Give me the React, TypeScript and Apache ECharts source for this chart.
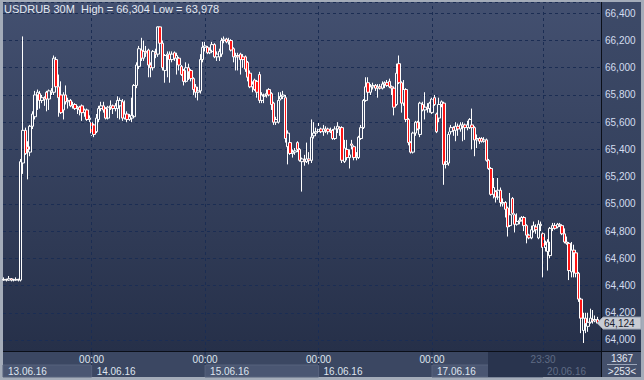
import React, { useEffect, useRef } from "react";
import * as echarts from "echarts";

// Each candle: [open, close, low, high]
const day13 = [
  [64.44, 64.445, 64.435, 64.46], [64.445, 64.44, 64.43, 64.45], [64.44, 64.45, 64.435, 64.47],
  [64.45, 64.44, 64.43, 64.455], [64.44, 64.44, 64.43, 64.45], [64.44, 64.445, 64.435, 64.46],
  [64.445, 64.44, 64.43, 64.45], [64.44, 65.31, 64.43, 65.33], [65.30, 65.54, 65.22, 66.23],
  [65.54, 65.37, 65.36, 65.56], [65.42, 65.40, 65.18, 65.46], [65.38, 65.57, 65.35, 65.58],
  [65.57, 65.66, 65.55, 65.68], [65.64, 65.80, 65.62, 65.83], [65.80, 65.82, 65.69, 65.84],
  [65.81, 65.76, 65.70, 65.83], [65.76, 65.78, 65.74, 65.80], [65.78, 65.77, 65.72, 65.79],
  [65.82, 65.77, 65.68, 65.83], [65.77, 65.83, 65.69, 65.84], [65.82, 65.83, 65.80, 65.85],
  [65.82, 66.07, 65.80, 66.09], [66.06, 65.86, 65.84, 66.08], [65.86, 65.78, 65.64, 65.95],
  [65.80, 65.67, 65.66, 65.90], [65.69, 65.80, 65.62, 65.82], [65.80, 65.75, 65.73, 65.87],
  [65.75, 65.76, 65.70, 65.78], [65.76, 65.72, 65.71, 65.77], [65.72, 65.73, 65.70, 65.75],
  [65.73, 65.70, 65.69, 65.74], [65.70, 65.71, 65.66, 65.72], [65.71, 65.69, 65.65, 65.72],
  [65.72, 65.67, 65.61, 65.73], [65.67, 65.69, 65.64, 65.70], [65.69, 65.62, 65.61, 65.70],
  [65.62, 65.63, 65.60, 65.65],
];
const day14 = [
  [65.60, 65.52, 65.50, 65.61], [65.58, 65.51, 65.49, 65.59], [65.53, 65.63, 65.52, 65.66],
  [65.62, 65.70, 65.60, 65.72], [65.70, 65.72, 65.68, 65.75], [65.72, 65.69, 65.67, 65.75],
  [65.70, 65.63, 65.62, 65.71], [65.63, 65.71, 65.62, 65.72], [65.71, 65.72, 65.69, 65.76],
  [65.72, 65.70, 65.66, 65.73], [65.70, 65.72, 65.68, 65.74], [65.70, 65.76, 65.63, 65.79],
  [65.72, 65.76, 65.62, 65.78], [65.75, 65.63, 65.61, 65.77], [65.63, 65.66, 65.62, 65.76],
  [65.66, 65.62, 65.60, 65.68], [65.62, 65.64, 65.61, 65.66], [65.63, 65.65, 65.60, 65.78],
  [65.64, 65.87, 65.63, 65.88], [65.87, 66.02, 65.85, 66.04], [66.01, 66.14, 65.99, 66.16],
  [66.13, 66.07, 66.05, 66.22], [66.07, 66.12, 66.05, 66.20], [66.12, 66.11, 66.08, 66.16],
  [66.13, 66.02, 65.93, 66.14], [66.02, 66.00, 65.93, 66.04], [66.00, 66.12, 65.98, 66.13],
  [66.11, 66.10, 66.07, 66.14], [66.10, 66.30, 66.08, 66.304], [66.30, 66.18, 66.16, 66.30],
  [66.18, 66.00, 65.98, 66.20], [65.98, 66.09, 65.89, 66.10], [66.09, 66.10, 65.93, 66.12],
  [66.10, 66.06, 65.89, 66.12], [66.06, 66.10, 66.04, 66.12], [66.11, 66.07, 66.05, 66.12],
  [66.07, 66.09, 65.95, 66.11], [66.07, 66.02, 65.98, 66.08], [66.01, 65.95, 65.94, 66.02],
  [65.98, 65.90, 65.87, 65.99], [65.90, 66.00, 65.89, 66.04], [66.00, 65.97, 65.91, 66.03],
  [65.98, 65.92, 65.90, 65.99], [65.92, 65.84, 65.80, 65.93], [65.86, 65.82, 65.78, 65.88],
  [65.82, 65.83, 65.76, 65.86], [65.83, 66.06, 65.81, 66.10], [66.06, 66.15, 66.04, 66.19],
];
const day15 = [
  [66.15, 66.16, 66.12, 66.19], [66.15, 66.11, 66.10, 66.16], [66.11, 66.13, 66.10, 66.15],
  [66.12, 66.17, 66.11, 66.19], [66.17, 66.08, 66.07, 66.18], [66.08, 66.10, 66.05, 66.12],
  [66.08, 66.12, 66.05, 66.14], [66.10, 66.20, 66.08, 66.22], [66.20, 66.21, 66.18, 66.23],
  [66.21, 66.19, 66.18, 66.22], [66.19, 66.20, 66.17, 66.22], [66.20, 66.13, 66.12, 66.21],
  [66.14, 66.08, 66.04, 66.15], [66.08, 66.09, 65.98, 66.11], [66.09, 66.08, 65.98, 66.11],
  [66.10, 66.06, 65.95, 66.11], [66.08, 66.06, 66.00, 66.10], [66.08, 65.99, 65.97, 66.09],
  [66.04, 65.93, 65.90, 66.05], [65.96, 65.86, 65.85, 65.98], [65.86, 65.88, 65.82, 65.90],
  [65.91, 65.84, 65.83, 65.92], [65.90, 65.82, 65.78, 65.91], [65.95, 65.76, 65.74, 65.97],
  [65.76, 65.80, 65.74, 65.82], [65.79, 65.80, 65.74, 65.81], [65.80, 65.81, 65.78, 65.84],
  [65.84, 65.80, 65.79, 65.85], [65.81, 65.73, 65.69, 65.82], [65.74, 65.60, 65.58, 65.75],
  [65.60, 65.62, 65.58, 65.64], [65.60, 65.76, 65.59, 65.82], [65.77, 65.79, 65.76, 65.82],
  [65.79, 65.80, 65.77, 65.83], [65.78, 65.48, 65.45, 65.80], [65.42, 65.52, 65.29, 65.54],
  [65.45, 65.37, 65.36, 65.46], [65.37, 65.38, 65.34, 65.40], [65.38, 65.39, 65.36, 65.41],
  [65.45, 65.40, 65.38, 65.46], [65.40, 65.32, 65.31, 65.41], [65.31, 65.33, 65.09, 65.34],
  [65.32, 65.31, 65.28, 65.36], [65.31, 65.33, 65.30, 65.45], [65.33, 65.32, 65.29, 65.38],
  [65.32, 65.49, 65.30, 65.62], [65.50, 65.52, 65.48, 65.60], [65.52, 65.53, 65.50, 65.56],
];
const day16 = [
  [65.53, 65.55, 65.51, 65.60], [65.55, 65.53, 65.52, 65.56], [65.53, 65.55, 65.50, 65.58],
  [65.55, 65.54, 65.52, 65.57], [65.55, 65.53, 65.51, 65.56], [65.53, 65.54, 65.52, 65.56],
  [65.54, 65.48, 65.47, 65.55], [65.48, 65.55, 65.47, 65.57], [65.55, 65.57, 65.52, 65.60],
  [65.56, 65.55, 65.50, 65.57], [65.56, 65.32, 65.30, 65.57], [65.31, 65.41, 65.30, 65.47],
  [65.40, 65.34, 65.32, 65.47], [65.34, 65.36, 65.26, 65.40], [65.44, 65.43, 65.40, 65.47],
  [65.42, 65.34, 65.32, 65.43], [65.34, 65.35, 65.32, 65.38], [65.34, 65.49, 65.33, 65.50],
  [65.48, 65.56, 65.47, 65.58], [65.56, 65.76, 65.55, 65.77], [65.76, 65.86, 65.75, 65.93],
  [65.89, 65.82, 65.79, 65.93], [65.82, 65.86, 65.80, 65.88], [65.86, 65.87, 65.84, 65.89],
  [65.87, 65.85, 65.83, 65.88], [65.85, 65.86, 65.78, 65.88], [65.86, 65.85, 65.84, 65.88],
  [65.85, 65.88, 65.84, 65.90], [65.88, 65.89, 65.85, 65.90], [65.89, 65.87, 65.86, 65.91],
  [65.90, 65.86, 65.85, 65.92], [65.86, 65.85, 65.80, 65.87], [65.85, 65.71, 65.65, 65.86],
  [65.73, 65.96, 65.72, 66.03], [66.03, 65.89, 65.88, 66.09], [65.89, 65.74, 65.67, 65.90],
  [65.74, 65.84, 65.72, 65.91], [65.84, 65.62, 65.60, 65.85], [65.62, 65.45, 65.43, 65.63],
  [65.45, 65.38, 65.37, 65.46], [65.38, 65.52, 65.37, 65.53], [65.52, 65.60, 65.50, 65.61],
  [65.60, 65.55, 65.54, 65.61], [65.51, 65.74, 65.49, 65.75], [65.73, 65.69, 65.68, 65.75],
  [65.69, 65.71, 65.62, 65.82], [65.71, 65.70, 65.67, 65.74], [65.70, 65.74, 65.67, 65.75],
];
const day17 = [
  [65.67, 65.77, 65.66, 65.78], [65.78, 65.73, 65.72, 65.80], [65.66, 65.53, 65.52, 65.67],
  [65.63, 65.73, 65.60, 65.78], [65.73, 65.75, 65.71, 65.76], [65.74, 65.29, 65.14, 65.75],
  [65.29, 65.31, 65.26, 65.35], [65.30, 65.51, 65.28, 65.53], [65.53, 65.56, 65.51, 65.58],
  [65.56, 65.54, 65.50, 65.57], [65.54, 65.57, 65.46, 65.60], [65.57, 65.55, 65.50, 65.59],
  [65.55, 65.58, 65.53, 65.60], [65.57, 65.58, 65.46, 65.60], [65.58, 65.56, 65.47, 65.59],
  [65.56, 65.58, 65.54, 65.61], [65.56, 65.62, 65.55, 65.63], [65.58, 65.56, 65.40, 65.70],
  [65.56, 65.47, 65.35, 65.57], [65.47, 65.48, 65.41, 65.51], [65.48, 65.46, 65.44, 65.49],
  [65.48, 65.46, 65.45, 65.49], [65.46, 65.47, 65.45, 65.49], [65.47, 65.32, 65.31, 65.48],
  [65.32, 65.26, 65.25, 65.33], [65.26, 65.07, 65.06, 65.27], [65.07, 65.12, 65.04, 65.19],
  [65.09, 65.05, 65.01, 65.10], [65.05, 65.10, 65.03, 65.19], [65.10, 65.01, 64.98, 65.12],
  [65.00, 65.01, 64.98, 65.04], [65.01, 64.96, 64.90, 65.02], [64.97, 64.83, 64.76, 64.98],
  [64.84, 64.92, 64.83, 65.08], [65.04, 64.93, 64.92, 65.05], [64.92, 64.85, 64.79, 64.93],
  [64.85, 64.87, 64.84, 64.93], [64.87, 64.88, 64.85, 64.90], [64.88, 64.90, 64.87, 64.91],
  [64.90, 64.84, 64.80, 64.91], [64.84, 64.77, 64.71, 64.85], [64.77, 64.75, 64.74, 64.78],
  [64.75, 64.81, 64.74, 64.84], [64.80, 64.84, 64.79, 64.87], [64.83, 64.81, 64.78, 64.85],
  [64.75, 64.85, 64.74, 64.88], [64.84, 64.85, 64.80, 64.87],
];
const day20 = [
  [64.78, 64.68, 64.46, 64.79], [64.68, 64.70, 64.65, 64.73], [64.65, 64.72, 64.51, 64.74],
  [64.62, 64.82, 64.60, 64.83], [64.82, 64.84, 64.80, 64.86], [64.84, 64.82, 64.81, 64.86],
  [64.83, 64.85, 64.82, 64.86], [64.85, 64.84, 64.83, 64.86], [64.84, 64.78, 64.77, 64.85],
  [64.78, 64.72, 64.71, 64.82], [64.72, 64.71, 64.70, 64.76], [64.71, 64.51, 64.44, 64.72],
  [64.50, 64.66, 64.46, 64.72], [64.66, 64.64, 64.46, 64.70], [64.64, 64.49, 64.46, 64.66],
  [64.49, 64.30, 64.28, 64.50], [64.30, 64.16, 64.05, 64.31], [64.07, 64.16, 63.978, 64.20],
  [64.16, 64.12, 64.05, 64.20], [64.10, 64.13, 64.06, 64.20], [64.13, 64.16, 64.12, 64.23],
  [64.15, 64.14, 64.12, 64.22], [64.14, 64.15, 64.13, 64.18], [64.15, 64.124, 64.12, 64.17],
];

const dayDates = ["13.06.16", "14.06.16", "15.06.16", "16.06.16", "17.06.16", "20.06.16"];
const dayStartSlot = [11, 0, 0, 0, 0, 0]; // first half-hour slot of each day
const dayCandles = [day13, day14, day15, day16, day17, day20];
const titleText = "USDRUB 30M  High = 66,304 Low = 63,978";
const lastPrice = 64.124;
const totalBars = "1367";
const visibleBars = ">253<";
const cursorTime = "23:30";
const yMin = 63.919;
const yMax = 66.483;

const FONT = "'Liberation Sans', Arial, sans-serif";
const fmt = (v: number) => v.toFixed(3).replace(".", ",");

const categories: string[] = [];
const ohlc: any[] = [];
const dayFirst: number[] = [];
dayCandles.forEach((arr, d) => {
  dayFirst.push(categories.length);
  arr.forEach((c, k) => {
    const slot = dayStartSlot[d] + k;
    const hh = String(Math.floor(slot / 2)).padStart(2, "0");
    categories.push(`${dayDates[d]} ${hh}:${slot % 2 ? "30" : "00"}`);
    ohlc.push(c);
  });
});
{
  const slot = dayStartSlot[5] + day20.length;
  categories.push(`${dayDates[5]} ${String(Math.floor(slot / 2)).padStart(2, "0")}:${slot % 2 ? "30" : "00"}`);
  ohlc.push("-");
}

export default function App() {
  const ref = useRef<HTMLDivElement>(null);
  useEffect(() => {
    if (!ref.current) return;
    const chart = echarts.init(ref.current, null, { renderer: "svg" });
    const dash = { color: "#1b2d53", type: [3, 3] as any, width: 1 };
    chart.setOption({
      animation: false,
      backgroundColor: "transparent",
      title: {
        text: titleText, left: 4, top: 3, padding: 0,
        textStyle: { color: "#e4e9f2", fontSize: 11, fontWeight: "normal", fontFamily: FONT },
      },
      grid: { left: 3, right: 43, top: 2, bottom: 29 },
      xAxis: {
        type: "category", data: categories, boundaryGap: true,
        axisLine: { show: false }, axisTick: { show: false }, axisLabel: { show: false }, splitLine: { show: false },
      },
      yAxis: {
        type: "value", position: "right", min: yMin, max: yMax, minInterval: 0.2, maxInterval: 0.2,
        axisLine: { show: false }, axisTick: { show: false },
        axisLabel: { color: "#d3ddef", fontSize: 10, fontFamily: FONT, margin: 4, formatter: fmt, showMinLabel: false, showMaxLabel: false },
        splitLine: { show: true, lineStyle: dash },
      },
      series: [
        {
          type: "candlestick", data: ohlc, barWidth: 3,
          itemStyle: {
            color: "rgba(0,0,0,0)", color0: "#ff1414", borderColor: "#ffffff", borderColor0: "#ffffff",
            borderColorDoji: "#ffffff", borderWidth: 1,
          },
          markLine: {
            silent: true, symbol: "none", label: { show: false }, lineStyle: dash,
            data: dayFirst.slice(1).map((i) => ({ xAxis: categories[i] })),
          },
        },
      ],
    });

    const xOf = (i: number) => chart.convertToPixel({ xAxisIndex: 0 }, categories[i]) as number;
    const yP = chart.convertToPixel({ yAxisIndex: 0 }, lastPrice) as number;
    const g: any[] = [];
    const txt = { fontSize: 10, fontFamily: FONT };
    dayDates.forEach((date, d) => {
      const x0 = d === 0 ? 3 : xOf(dayFirst[d]);
      const x1 = d < dayDates.length - 1 ? xOf(dayFirst[d + 1]) : 601;
      if (d % 2 === 0) {
        g.push({ type: "rect", z: 10, shape: { x: x0, y: 365, width: x1 - x0, height: 12 },
          style: { fill: "#4a5672", stroke: "#56627d", lineWidth: 1 } });
      }
      if (d < dayDates.length - 1) {
        g.push({ type: "text", z: 12, x: x0 + 5, y: 371, style: { ...txt, text: date, fill: "#dfe5ef", verticalAlign: "middle" } });
        if (d > 0) {
          g.push({ type: "line", z: 11, shape: { x1: x0, y1: 352, x2: x0, y2: 365 }, style: { stroke: "#1b2d53", lineDash: [3, 3] } });
          g.push({ type: "text", z: 12, x: x0, y: 359, style: { ...txt, text: "00:00", fill: "#dfe5ef", align: "center", verticalAlign: "middle" } });
        }
      }
    });
    const xc = xOf(dayFirst[5]);
    g.push({ type: "rect", z: 13, shape: { x: 488, y: 352, width: 113, height: 25 }, style: { fill: "#29344e" } });
    g.push({ type: "text", z: 14, x: xc, y: 359, style: { ...txt, text: cursorTime, fill: "#5f6b84", align: "center", verticalAlign: "middle" } });
    g.push({ type: "text", z: 14, x: xc + 4, y: 371, style: { ...txt, text: dayDates[5], fill: "#5f6b84", verticalAlign: "middle" } });
    // separators
    g.push({ type: "line", z: 20, shape: { x1: 3, y1: 351.5, x2: 641, y2: 351.5 }, style: { stroke: "#0b0f18", lineWidth: 1 } });
    g.push({ type: "line", z: 20, shape: { x1: 601.5, y1: 2, x2: 601.5, y2: 377 }, style: { stroke: "#0b0f18", lineWidth: 1 } });
    // bottom-right counter box
    g.push({ type: "text", z: 21, x: 622, y: 358, style: { ...txt, text: totalBars, fill: "#e4e9f2", align: "center", verticalAlign: "middle" } });
    g.push({ type: "line", z: 21, shape: { x1: 607, y1: 364.5, x2: 637, y2: 364.5 }, style: { stroke: "#9aa4b8", lineWidth: 1 } });
    g.push({ type: "text", z: 21, x: 622, y: 371, style: { ...txt, text: visibleBars, fill: "#e4e9f2", align: "center", verticalAlign: "middle" } });
    // last price tag
    g.push({ type: "polygon", z: 22, shape: { points: [[597, yP], [603, yP - 6], [641, yP - 6], [641, yP + 6], [603, yP + 6]] },
      style: { fill: "#c8ccd4", stroke: "#9ba3b2", lineWidth: 1 } });
    g.push({ type: "text", z: 23, x: 604, y: yP, style: { ...txt, text: fmt(lastPrice), fill: "#1b2130", verticalAlign: "middle" } });
    chart.setOption({ graphic: g });
    return () => chart.dispose();
  }, []);

  return (
    <div style={{ position: "fixed", left: 0, top: 0, width: 644, height: 380, background: "#a4acb9", overflow: "hidden" }}>
      <div style={{ position: "absolute", left: 3, top: 2, width: 598, height: 349, background: "linear-gradient(#435070, #263049)" }} />
      <div style={{ position: "absolute", left: 602, top: 2, width: 39, height: 350, background: "linear-gradient(#3d4a68, #2d3954)" }} />
      <div style={{ position: "absolute", left: 3, top: 352, width: 598, height: 25, background: "#3b4762" }} />
      <div style={{ position: "absolute", left: 602, top: 352, width: 39, height: 25, background: "#44506b" }} />
      <div ref={ref} style={{ position: "absolute", left: 0, top: 0, width: 644, height: 380 }} />
    </div>
  );
}
